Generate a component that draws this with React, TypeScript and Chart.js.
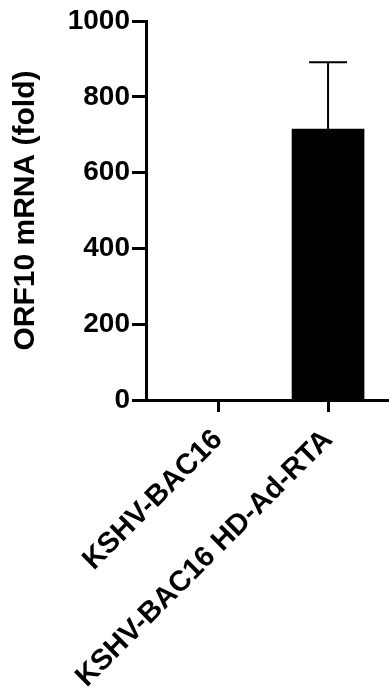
import React, { useEffect, useRef } from "react";
import { Chart, registerables } from "chart.js";

Chart.register(...registerables);

const categories = ["KSHV-BAC16", "KSHV-BAC16 HD-Ad-RTA"];
const positions = [0, 1];
const means = [1, 715];
const errorsUp = [0, 176];
const yTickValues = [0, 200, 400, 600, 800, 1000];
const yTitle = "ORF10 mRNA (fold)";

const FONT = "'Liberation Sans', Arial, sans-serif";

const errorBarPlugin = {
  id: "errorBars",
  afterDatasetsDraw(chart: any) {
    const { ctx, scales } = chart;
    const xs = scales.x;
    const ys = scales.y;
    ctx.save();
    ctx.strokeStyle = "#000";
    ctx.lineWidth = 2;
    means.forEach((m, i) => {
      if (!errorsUp[i]) return;
      const px = xs.getPixelForValue(positions[i]);
      const base = ys.getPixelForValue(m);
      const top = ys.getPixelForValue(m + errorsUp[i]);
      ctx.beginPath();
      ctx.moveTo(px, base);
      ctx.lineTo(px, top);
      ctx.moveTo(px - 19, top);
      ctx.lineTo(px + 19, top);
      ctx.stroke();
    });
    ctx.restore();
  },
};

export default function App() {
  const ref = useRef<HTMLCanvasElement | null>(null);

  useEffect(() => {
    if (!ref.current) return;
    const chart = new Chart(ref.current, {
      type: "bar",
      data: {
        datasets: [
          {
            data: positions.map((p, i) => ({ x: p, y: means[i] })),
            backgroundColor: "#000",
            borderColor: "#000",
            borderWidth: 0,
            barThickness: 72,
          },
        ],
      },
      options: {
        responsive: false,
        animation: false,
        events: [],
        layout: { padding: { top: 21, left: 0, right: 0, bottom: 0 } },
        plugins: { legend: { display: false }, tooltip: { enabled: false } },
        scales: {
          x: {
            type: "linear",
            offset: false,
            min: -0.655,
            max: 1.836,
            afterFit: (s: any) => {
              s.height = 288;
            },
            afterBuildTicks: (s: any) => {
              s.ticks = positions.map((v) => ({ value: v }));
            },
            grid: {
              display: true,
              offset: false,
              drawOnChartArea: false,
              drawTicks: true,
              tickLength: 12,
              tickWidth: 3,
              tickColor: "#000",
            },
            border: { display: true, color: "#000", width: 3 },
            ticks: {
              autoSkip: false,
              minRotation: 45,
              maxRotation: 45,
              padding: 11,
              color: "#000",
              font: { family: FONT, size: 29, weight: "bold" },
              callback: (v: any) => {
                const idx = positions.indexOf(Number(v));
                return idx >= 0 ? categories[idx] : "";
              },
            },
          },
          y: {
            type: "linear",
            min: 0,
            max: 1000,
            afterFit: (s: any) => {
              s.width = 146;
            },
            afterBuildTicks: (s: any) => {
              s.ticks = yTickValues.map((v) => ({ value: v }));
            },
            grid: {
              display: true,
              drawOnChartArea: false,
              drawTicks: true,
              tickLength: 14,
              tickWidth: 3,
              tickColor: "#000",
            },
            border: { display: true, color: "#000", width: 3 },
            ticks: {
              padding: 2,
              color: "#000",
              font: { family: FONT, size: 28, weight: "bold" },
              callback: (v: any) => String(v),
            },
            title: {
              display: true,
              text: yTitle,
              color: "#000",
              padding: { top: 8, bottom: 0 },
              font: { family: FONT, size: 30, weight: "bold" },
            },
          },
        },
      },
      plugins: [errorBarPlugin],
    });
    return () => chart.destroy();
  }, []);

  return (
    <div
      style={{
        position: "fixed",
        left: 0,
        top: 0,
        width: 389,
        height: 688,
        overflow: "hidden",
        background: "#fff",
      }}
    >
      <canvas ref={ref} width={420} height={688} />
    </div>
  );
}
